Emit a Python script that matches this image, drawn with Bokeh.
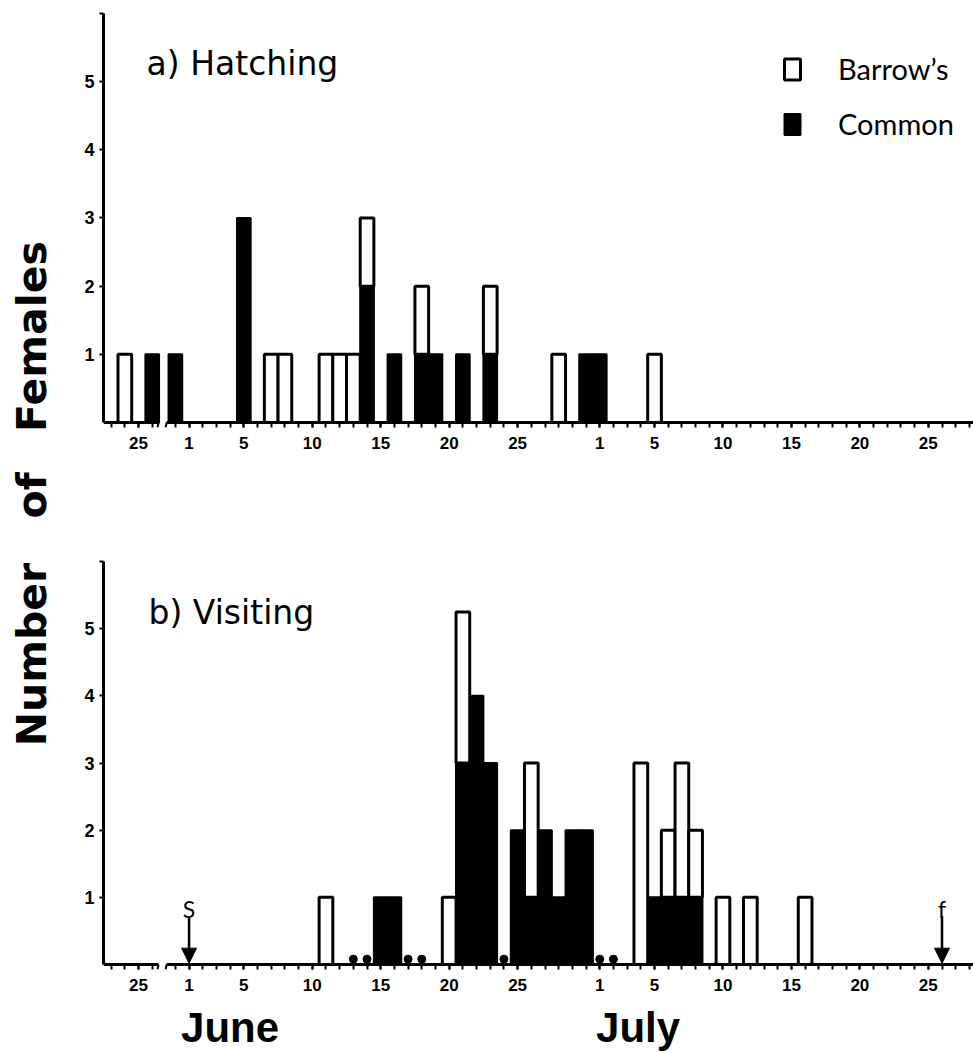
import math
from bokeh.plotting import figure
from bokeh.models import (FixedTicker, Label, Arrow, NormalHead, Legend, LegendItem,
                          ColumnDataSource, LinearAxis, Range1d)
from bokeh.layouts import column, row
from bokeh.embed import file_html
from bokeh.resources import INLINE

# ---------------- data ----------------
hatch_dates = [("May", 24), ("May", 26), ("May", 31), ("Jun", 5), ("Jun", 7), ("Jun", 8),
               ("Jun", 11), ("Jun", 12), ("Jun", 13), ("Jun", 14), ("Jun", 16), ("Jun", 18),
               ("Jun", 19), ("Jun", 21), ("Jun", 23), ("Jun", 28), ("Jun", 30), ("Jul", 1),
               ("Jul", 5)]
hatch_barrows = [1, 0, 0, 0, 1, 1, 1, 1, 1, 1, 0, 1, 0, 0, 1, 1, 0, 0, 1]
hatch_common = [0, 1, 1, 3, 0, 0, 0, 0, 0, 2, 1, 1, 1, 1, 1, 0, 1, 1, 0]

visit_dates = [("Jun", 11), ("Jun", 15), ("Jun", 16), ("Jun", 20), ("Jun", 21), ("Jun", 22),
               ("Jun", 23), ("Jun", 25), ("Jun", 26), ("Jun", 27), ("Jun", 28), ("Jun", 29),
               ("Jun", 30), ("Jul", 4), ("Jul", 5), ("Jul", 6), ("Jul", 7), ("Jul", 8),
               ("Jul", 10), ("Jul", 12), ("Jul", 16)]
visit_barrows = [1, 0, 0, 1, 2.25, 0, 0, 0, 2, 0, 0, 0, 0, 3, 0, 1, 2, 1, 1, 1, 1]
visit_common = [0, 1, 1, 0, 3, 4, 3, 2, 1, 2, 1, 2, 2, 0, 1, 1, 1, 1, 0, 0, 0]

visit_dot_dates = [("Jun", 13), ("Jun", 14), ("Jun", 17), ("Jun", 18), ("Jun", 24),
                   ("Jul", 1), ("Jul", 2)]
start_date = ("Jun", 1)
finish_date = ("Jul", 26)

tick_dates = [("May", 25), ("Jun", 1), ("Jun", 5), ("Jun", 10), ("Jun", 15), ("Jun", 20),
              ("Jun", 25), ("Jul", 1), ("Jul", 5), ("Jul", 10), ("Jul", 15), ("Jul", 20),
              ("Jul", 25)]
tick_labels = ["25", "1", "5", "10", "15", "20", "25", "1", "5", "10", "15", "20", "25"]
month_labels = ["June", "July"]
y_ticks = [1, 2, 3, 4, 5, 6]
y_tick_labels = ["1", "2", "3", "4", "5", ""]
ylabel_words = ["Females", "of", "Number"]

# ---------------- axis mapping (with axis break before June) ----------------
MONTH_OFFSET = {"May": -31, "Jun": 0, "Jul": 30}
BREAK_DAY = -3          # days before this are drawn on the compressed left segment
BREAK_SHIFT = 3.31


def day_of(md):
    return MONTH_OFFSET[md[0]] + md[1]


def axis_pos(md):
    d = day_of(md)
    return d + BREAK_SHIFT if d < BREAK_DAY else float(d)


X_RANGE = (-5.25, 58.3)
BASE_PAD = 0.074                    # frame extends a little below the baseline
BREAK_LEFT, BREAK_RIGHT = -1.23, -0.64
MONTH_LABEL_POS = [4.0, 33.8]

major_pos = [axis_pos(d) for d in tick_dates]
minor_pos = ([axis_pos(("May", d)) for d in range(23, 27)] +
             [axis_pos(("May", 31))] +
             [axis_pos(("Jun", d)) for d in range(1, 31)] +
             [axis_pos(("Jul", d)) for d in range(1, 29)])

TICK_FONT = "Liberation Sans"
TITLE_FONT = "DejaVu Sans"
PANEL_W = 913
LEFT_W = 60


def make_panel(height, border_top, border_bottom):
    p = figure(width=PANEL_W, height=height, x_range=X_RANGE, y_range=(-BASE_PAD, 6),
               output_backend="svg", toolbar_location=None,
               min_border_left=43, min_border_right=0,
               min_border_top=border_top, min_border_bottom=border_bottom)
    p.xgrid.visible = False
    p.ygrid.visible = False
    p.outline_line_color = None
    p.background_fill_color = "white"

    xa = p.xaxis[0]
    xa.ticker = FixedTicker(ticks=major_pos, minor_ticks=minor_pos)
    xa.major_label_overrides = {pos: lab for pos, lab in zip(major_pos, tick_labels)}
    xa.axis_line_color = None
    xa.major_tick_line_width = 2
    xa.major_tick_out = 0
    xa.major_tick_in = 6
    xa.minor_tick_line_width = 2
    xa.minor_tick_out = 0
    xa.minor_tick_in = 6
    xa.major_label_text_font = TICK_FONT
    xa.major_label_text_font_style = "bold"
    xa.major_label_text_font_size = "17px"
    xa.major_label_text_color = "black"
    xa.major_label_standoff = 9

    ya = p.yaxis[0]
    ya.ticker = FixedTicker(ticks=y_ticks)
    ya.bounds = (0, 6)
    ya.major_label_overrides = {t: l for t, l in zip(y_ticks, y_tick_labels)}
    ya.axis_line_width = 3
    ya.axis_line_color = "black"
    ya.major_tick_line_width = 2
    ya.major_tick_out = 4
    ya.major_tick_in = 0
    ya.minor_tick_line_color = None
    ya.major_label_text_font = TICK_FONT
    ya.major_label_text_font_style = "bold"
    ya.major_label_text_font_size = "18px"
    ya.major_label_text_color = "black"
    ya.major_label_standoff = 5

    # baseline drawn in two pieces, with the axis break between them
    p.segment(x0=[X_RANGE[0], BREAK_RIGHT], y0=[0, 0], x1=[BREAK_LEFT, X_RANGE[1]], y1=[0, 0],
              line_width=3, line_color="black")
    p.segment(x0=[BREAK_LEFT, BREAK_RIGHT], y0=[0, 0],
              x1=[BREAK_LEFT - 0.07, BREAK_RIGHT - 0.07], y1=[-BASE_PAD, -BASE_PAD],
              line_width=2, line_color="black")
    return p


def draw_bars(p, dates, barrows, common):
    xs = [axis_pos(d) for d in dates]
    c_src = ColumnDataSource(dict(x=[x for x, c in zip(xs, common) if c > 0],
                                  top=[c for c in common if c > 0]))
    b_src = ColumnDataSource(dict(x=[x for x, b in zip(xs, barrows) if b > 0],
                                  bottom=[c for c, b in zip(common, barrows) if b > 0],
                                  top=[c + b for c, b in zip(common, barrows) if b > 0]))
    rc = p.vbar(x="x", width=1, bottom=0, top="top", source=c_src,
                fill_color="black", line_color="black", line_width=2)
    rb = p.vbar(x="x", width=1, bottom="bottom", top="top", source=b_src,
                fill_color="white", line_color="black", line_width=3)
    return rb, rc


# ---------------- panel a: hatching ----------------
p1 = make_panel(538, 13, 111)
rb1, rc1 = draw_bars(p1, hatch_dates, hatch_barrows, hatch_common)

legend = Legend(items=[LegendItem(label="Barrow\u2019s", renderers=[rb1]),
                       LegendItem(label="Common", renderers=[rc1])],
                location=(679, 286), padding=0, margin=0, spacing=20,
                glyph_width=20, glyph_height=26, label_standoff=36,
                label_text_font="Lato", label_text_font_size="29px",
                label_text_color="black", border_line_color=None,
                background_fill_alpha=0)
p1.add_layout(legend)

p1.add_layout(Label(x=-2.1, y=5.26, text="a) Hatching", text_font=TITLE_FONT,
                    text_font_size="33px", text_color="black",
                    text_baseline="alphabetic", text_align="left"))

# ---------------- panel b: visiting ----------------
p2 = make_panel(515, 23, 84)
draw_bars(p2, visit_dates, visit_barrows, visit_common)

DOT_Y = 0.08
p2.scatter(x=[axis_pos(d) for d in visit_dot_dates], y=[DOT_Y] * len(visit_dot_dates),
           size=8, color="black", marker="circle")

for md, lab in ((start_date, "S"), (finish_date, "f")):
    xp = axis_pos(md)
    p2.add_layout(Arrow(end=NormalHead(size=15, fill_color="black", line_color="black"),
                        x_start=xp, y_start=0.72, x_end=xp, y_end=0.02,
                        line_width=2.5, line_color="black"))
    p2.add_layout(Label(x=xp, y=0.83, text=lab, text_font="Lato", text_font_size="23px",
                        text_align="center", text_baseline="alphabetic", text_color="black"))

p2.add_layout(Label(x=-1.96, y=5.24, text="b) Visiting", text_font=TITLE_FONT,
                    text_font_size="33px", text_color="black",
                    text_baseline="alphabetic", text_align="left"))

month_axis = LinearAxis(ticker=FixedTicker(ticks=MONTH_LABEL_POS),
                        major_label_overrides={pos: lab for pos, lab in
                                               zip(MONTH_LABEL_POS, month_labels)},
                        axis_line_color=None, major_tick_line_color=None,
                        minor_tick_line_color=None, major_label_standoff=4,
                        major_label_text_font=TICK_FONT,
                        major_label_text_font_style="bold",
                        major_label_text_font_size="42px",
                        major_label_text_color="black")
p2.add_layout(month_axis, "below")

# ---------------- shared y-axis title ----------------
TOTAL_H = 538 + 515
pl = figure(width=LEFT_W, height=TOTAL_H, x_range=Range1d(0, LEFT_W),
            y_range=Range1d(0, TOTAL_H), output_backend="svg", toolbar_location=None,
            x_axis_type=None, y_axis_type=None, min_border=0)
pl.outline_line_color = None
pl.xgrid.visible = False
pl.ygrid.visible = False
YLAB_CENTERS = [336, 495, 654]       # vertical centres of the words, from the top
for word, cy in zip(ylabel_words, YLAB_CENTERS):
    pl.add_layout(Label(x=31, y=TOTAL_H - cy, text=word, angle=math.pi / 2,
                        text_font=TITLE_FONT, text_font_style="bold", text_font_size="41px",
                        text_align="center", text_baseline="middle", text_color="black"))

layout = row(pl, column(p1, p2, spacing=0), spacing=0)
open("out.html", "w").write(file_html(layout, INLINE))
